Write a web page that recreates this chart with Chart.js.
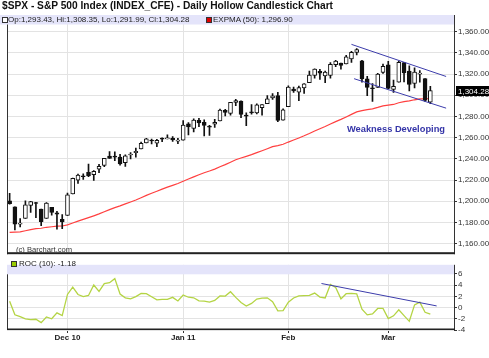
<!DOCTYPE html>
<html>
<head>
<meta charset="utf-8">
<script src="https://cdn.jsdelivr.net/npm/chart.js@4.4.1/dist/chart.umd.min.js"></script>
<style>
  body { margin: 0; background: #fff; font-family: 'Liberation Sans', Arial, sans-serif; }
  #wrap { position: relative; width: 489px; height: 358px; overflow: hidden; }
  canvas { position: absolute; left: 0; }
  .txt { position: absolute; white-space: nowrap; color: #222; }
  .sq { position: absolute; width: 4px; height: 4px; border: 1px solid #333; }
</style>
</head>
<body>
<div id="wrap">
  <canvas id="main" width="489" height="260" style="top:0"></canvas>
  <canvas id="roc" width="489" height="99" style="top:259px"></canvas>

  <div class="txt" style="left:2px;top:0;font-size:10.2px;line-height:12px;font-weight:bold;color:#111">$SPX - S&amp;P 500 Index (INDEX_CFE) - Daily Hollow Candlestick Chart</div>

  <div class="sq" style="left:2px;top:17px;background:#fff"></div>
  <div class="txt" style="left:8px;top:15px;font-size:8px;line-height:10px">Op:1,293.43, Hi:1,308.35, Lo:1,291.99, Cl:1,304.28</div>
  <div class="sq" style="left:206px;top:17px;background:#e00000"></div>
  <div class="txt" style="left:213px;top:15px;font-size:8px;line-height:10px">EXPMA (50): 1,296.90</div>

  <div class="sq" style="left:11px;top:261px;background:#99cc00"></div>
  <div class="txt" style="left:19px;top:259px;font-size:8px;line-height:10px">ROC (10): -1.18</div>

  <div class="txt" style="left:347px;top:123px;font-size:9.3px;line-height:12px;font-weight:bold;color:#3535a8">Weakness Developing</div>
  <div class="txt" style="left:16px;top:245px;font-size:7.6px;line-height:10px;color:#333">(c) Barchart.com</div>
</div>
<script>
// trading days, 15 Nov 2010 - 11 Mar 2011
const dates = [
  'Nov 15','Nov 16','Nov 17','Nov 18','Nov 19','Nov 22','Nov 23','Nov 24','Nov 26','Nov 29','Nov 30',
  'Dec 1','Dec 2','Dec 3','Dec 6','Dec 7','Dec 8','Dec 9','Dec 10','Dec 13','Dec 14','Dec 15','Dec 16','Dec 17',
  'Dec 20','Dec 21','Dec 22','Dec 23','Dec 27','Dec 28','Dec 29','Dec 30','Dec 31',
  'Jan 3','Jan 4','Jan 5','Jan 6','Jan 7','Jan 10','Jan 11','Jan 12','Jan 13','Jan 14','Jan 18','Jan 19','Jan 20',
  'Jan 21','Jan 24','Jan 25','Jan 26','Jan 27','Jan 28','Jan 31',
  'Feb 1','Feb 2','Feb 3','Feb 4','Feb 7','Feb 8','Feb 9','Feb 10','Feb 11','Feb 14','Feb 15','Feb 16','Feb 17',
  'Feb 18','Feb 22','Feb 23','Feb 24','Feb 25','Feb 28',
  'Mar 1','Mar 2','Mar 3','Mar 4','Mar 7','Mar 8','Mar 9','Mar 10','Mar 11',
];

const opens = [
  1200.44, 1194.79, 1178.33, 1183.75, 1196.12, 1198.07, 1192.51, 1183.70, 1194.16, 1189.08, 1182.96,
  1186.60, 1206.81, 1219.93, 1223.87, 1227.25, 1225.02, 1230.14, 1233.85, 1242.52, 1241.84, 1241.58,
  1236.34, 1243.63, 1245.76, 1249.43, 1254.94, 1257.53, 1254.66, 1259.10, 1258.78, 1259.44, 1256.76,
  1257.62, 1272.95, 1268.78, 1276.29, 1274.41, 1270.84, 1272.58, 1275.65, 1285.78, 1282.90, 1293.22,
  1294.52, 1280.85, 1283.63, 1283.29, 1288.17, 1291.97, 1297.51, 1299.63, 1276.50,
  1289.14, 1305.91, 1302.77, 1307.01, 1311.85, 1318.76, 1322.48, 1318.13, 1318.66, 1328.73, 1330.43,
  1329.51, 1334.37, 1340.38, 1332.50, 1315.44, 1307.09, 1307.34, 1321.61,
  1328.64, 1305.47, 1312.37, 1330.73, 1322.72, 1311.05, 1319.92, 1315.72, 1293.43,
];
const highs = [
  1207.43, 1194.79, 1183.56, 1200.29, 1199.97, 1198.94, 1192.51, 1198.62, 1194.16, 1190.34, 1187.40,
  1207.61, 1221.89, 1225.57, 1225.80, 1235.05, 1228.93, 1234.71, 1240.40, 1246.73, 1246.59, 1244.25,
  1243.75, 1245.81, 1250.20, 1255.82, 1259.39, 1258.59, 1258.43, 1259.90, 1262.60, 1261.09, 1259.34,
  1276.17, 1274.12, 1277.63, 1278.17, 1276.83, 1271.52, 1277.25, 1286.87, 1286.70, 1293.24, 1296.06,
  1294.60, 1283.35, 1291.21, 1291.93, 1291.26, 1299.74, 1301.63, 1302.67, 1287.17,
  1308.86, 1307.61, 1308.60, 1311.00, 1322.85, 1324.87, 1324.54, 1322.78, 1330.79, 1332.96, 1330.43,
  1337.61, 1341.50, 1344.07, 1333.00, 1317.91, 1310.91, 1320.61, 1329.38,
  1332.09, 1314.19, 1332.28, 1331.08, 1327.68, 1325.74, 1323.21, 1315.72, 1308.35,
];
const lows = [
  1197.15, 1173.00, 1175.82, 1183.75, 1189.44, 1184.58, 1176.91, 1183.70, 1186.93, 1173.64, 1174.14,
  1186.60, 1206.81, 1216.82, 1220.67, 1223.25, 1219.50, 1226.85, 1232.58, 1240.34, 1238.17, 1234.01,
  1232.85, 1239.87, 1241.51, 1249.43, 1254.94, 1254.05, 1251.48, 1256.22, 1258.78, 1256.32, 1254.19,
  1257.62, 1262.66, 1265.36, 1270.43, 1261.70, 1262.18, 1269.62, 1275.65, 1280.47, 1281.24, 1290.16,
  1278.92, 1271.26, 1282.07, 1282.47, 1281.07, 1291.97, 1295.98, 1275.10, 1276.50,
  1289.14, 1302.62, 1294.83, 1301.67, 1311.85, 1316.03, 1314.89, 1311.74, 1316.08, 1326.90, 1324.61,
  1329.51, 1331.00, 1338.12, 1312.33, 1299.55, 1294.26, 1307.34, 1320.55,
  1306.14, 1302.58, 1312.37, 1312.59, 1303.99, 1306.86, 1312.27, 1294.21, 1291.99,
];
const closes = [
  1197.75, 1178.34, 1178.59, 1196.69, 1199.73, 1197.84, 1180.73, 1198.35, 1189.40, 1187.76, 1180.55,
  1206.07, 1221.53, 1224.71, 1223.12, 1223.75, 1228.28, 1233.00, 1240.40, 1240.46, 1241.59, 1235.23,
  1242.87, 1243.91, 1247.08, 1254.60, 1258.84, 1256.77, 1257.54, 1258.51, 1259.78, 1257.88, 1257.64,
  1271.87, 1270.20, 1276.56, 1273.85, 1271.50, 1269.75, 1274.48, 1285.96, 1283.76, 1293.24, 1295.02,
  1281.92, 1280.26, 1283.35, 1290.84, 1291.18, 1296.63, 1299.54, 1276.34, 1286.12,
  1307.59, 1304.03, 1307.10, 1310.87, 1319.05, 1324.57, 1320.88, 1321.87, 1329.15, 1332.32, 1328.01,
  1336.32, 1340.43, 1343.01, 1315.44, 1307.40, 1306.10, 1319.88, 1327.22,
  1306.33, 1308.44, 1330.97, 1321.15, 1310.13, 1321.82, 1320.02, 1295.11, 1304.28,
];
const ema50 = [
  1170.5, 1170.8, 1171.1, 1172.1, 1173.2, 1174.2, 1174.5, 1175.4, 1175.9, 1176.4, 1176.6,
  1177.7, 1179.4, 1181.2, 1182.9, 1184.5, 1186.2, 1188.0, 1190.1, 1192.1, 1194.0, 1195.6,
  1197.5, 1199.3, 1201.2, 1203.3, 1205.5, 1207.5, 1209.4, 1211.4, 1213.3, 1215.0, 1216.7,
  1218.8, 1220.9, 1223.0, 1225.0, 1226.9, 1228.5, 1230.3, 1232.5, 1234.5, 1236.8, 1239.1,
  1240.8, 1242.3, 1243.9, 1245.8, 1247.6, 1249.5, 1251.5, 1252.4, 1253.7,
  1255.8, 1257.7, 1259.7, 1261.7, 1263.9, 1266.3, 1268.4, 1270.5, 1272.8, 1275.1, 1277.2,
  1279.5, 1281.9, 1284.3, 1285.5, 1286.4, 1287.2, 1288.5, 1290.0,
  1290.6, 1291.3, 1292.9, 1294.0, 1294.6, 1295.7, 1296.6, 1296.6, 1296.9,
];
const roc10 = [
  1.13, -1.28, -1.62, -2.00, -2.13, -2.08, -2.69, -1.67, -1.99, -0.95, -1.44,
  2.35, 3.64, 2.34, 1.95, 2.16, 4.03, 2.89, 4.29, 4.44, 5.17, 2.42,
  1.75, 1.57, 1.96, 2.52, 2.49, 1.93, 1.38, 1.46, 1.47, 1.83, 1.19,
  2.25, 1.85, 1.75, 1.19, 1.17, 0.97, 1.27, 2.08, 2.06, 2.83, 1.82,
  0.92, 0.29, 0.75, 1.52, 1.69, 1.74, 1.06, -0.58, -0.55,
  0.97, 1.72, 2.10, 2.14, 2.19, 2.59, 1.87, 1.72, 4.14, 3.59, 1.56,
  2.48, 2.55, 2.45, -0.27, -1.30, -1.12, -0.15, -0.15,
  -1.95, -1.47, -0.40, -1.44, -2.45, 0.49, 0.97, -0.84, -1.18,
];

// hand-drawn trend lines (bar index, value)
const upperTrendX = [65, 83];
const upperTrendY = [1348, 1317.7];
const lowerTrendX = [65.5, 83];
const lowerTrendY = [1315.6, 1287.8];
const rocTrendX = [59.3, 81.2];
const rocTrendY = [4.3, 0.3];

// month ticks (first trading day of each month)
const tickIdx = [11, 33, 53, 72];
const tickLabels = ['Dec 10', 'Jan 11', 'Feb', 'Mar'];

const priceTicks = {min: 1150, max: 1375.7, step: 20};
const rocTicks = {min: -4, max: 7.64, step: 2};

Chart.defaults.font.family = "'Liberation Sans', Arial, sans-serif";
Chart.defaults.font.size = 8;
Chart.defaults.color = '#333';

const GRID = '#e3e3e3';
const X_MIN = -0.5;
const X_MAX = 84.5;

const fmtPrice = (v) => v.toLocaleString('en-US', {
  minimumFractionDigits: 2, maximumFractionDigits: 2,
});

const pts = (xs, ys) => xs.map((x, i) => ({x, y: ys[i]}));

const panelPlugin = {
  id: 'panel',
  beforeDatasetsDraw(chart, args, opts) {
    const {ctx, chartArea: a} = chart;
    ctx.save();
    ctx.fillStyle = '#e4e4fa';
    ctx.fillRect(opts.bandLeft, a.top, a.right - opts.bandLeft, opts.band);
    ctx.restore();
  },
  afterDraw(chart, args, opts) {
    const {ctx, chartArea: a} = chart;
    ctx.save();
    ctx.strokeStyle = '#333';
    ctx.lineWidth = 1;
    ctx.beginPath();
    ctx.moveTo(a.left + 0.5, a.top + opts.band);
    ctx.lineTo(a.left + 0.5, a.bottom);
    ctx.moveTo(a.right + 0.5, a.top);
    ctx.lineTo(a.right + 0.5, a.bottom);
    ctx.stroke();
    ctx.fillStyle = '#222';
    ctx.fillRect(a.left, a.bottom - opts.bottom, a.right - a.left + 1, opts.bottom);
    if (opts.lastPrice) {
      const y = chart.scales.y.getPixelForValue(opts.lastPrice);
      ctx.fillStyle = '#000';
      ctx.fillRect(a.right + 2, Math.round(y) - 5, 33, 10);
      ctx.fillStyle = '#fff';
      ctx.font = "8px 'Liberation Sans', Arial, sans-serif";
      ctx.textBaseline = 'middle';
      ctx.fillText(fmtPrice(opts.lastPrice), a.right + 4, Math.round(y) + 0.5);
    }
    ctx.restore();
  },
};

const monthAxis = (showLabels) => ({
  type: 'linear',
  min: X_MIN,
  max: X_MAX,
  offset: false,
  afterBuildTicks: (s) => {
    s.ticks = tickIdx.map((v) => ({value: v}));
  },
  afterFit: (s) => {
    s.height = showLabels ? 28 : 1;
  },
  ticks: {
    display: showLabels,
    autoSkip: false,
    maxRotation: 0,
    padding: 0,
    color: '#222',
    font: {size: 8, weight: 'bold'},
    callback: (v) => tickLabels[tickIdx.indexOf(v)],
  },
  grid: {color: GRID, offset: false, drawTicks: showLabels, tickLength: 3, tickColor: '#333'},
  border: {display: false},
});

const valueAxis = (t, cb) => ({
  position: 'right',
  min: t.min,
  max: t.max,
  afterFit: (s) => {
    s.width = 35;
  },
  ticks: {stepSize: t.step, includeBounds: false, padding: 1, color: '#333', callback: cb},
  grid: {color: GRID, tickLength: 3, tickColor: '#333'},
  border: {display: false},
});

new Chart(document.getElementById('main'), {
  type: 'bar',
  data: {
    datasets: [
      {
        type: 'line',
        data: pts(upperTrendX, upperTrendY),
        borderColor: '#3c3cab',
        borderWidth: 1,
        pointRadius: 0,
        order: 0,
      },
      {
        type: 'line',
        data: pts(lowerTrendX, lowerTrendY),
        borderColor: '#3c3cab',
        borderWidth: 1,
        pointRadius: 0,
        order: 0,
      },
      {
        data: dates.map((d, i) => ({x: i, y: [opens[i], closes[i]]})),
        backgroundColor: closes.map((c, i) => (c >= opens[i] ? '#fff' : '#111')),
        borderColor: '#111',
        borderWidth: 1,
        borderSkipped: false,
        barThickness: 4,
        minBarLength: 1,
        grouped: false,
        order: 1,
      },
      {
        data: dates.map((d, i) => ({x: i, y: [lows[i], highs[i]]})),
        backgroundColor: '#111',
        barThickness: 1,
        grouped: false,
        order: 2,
      },
      {
        type: 'line',
        data: pts(dates.map((d, i) => i), ema50),
        borderColor: '#ff4040',
        borderWidth: 1.2,
        pointRadius: 0,
        order: 3,
      },
    ],
  },
  options: {
    responsive: false,
    animation: false,
    events: [],
    layout: {padding: {left: 7, top: 15, right: 0, bottom: 0}},
    scales: {
      x: monthAxis(false),
      y: valueAxis(priceTicks, fmtPrice),
    },
    plugins: {
      legend: {display: false},
      tooltip: {enabled: false},
      panel: {band: 9.5, bandLeft: 0, bottom: 2, lastPrice: closes[closes.length - 1]},
    },
  },
  plugins: [panelPlugin],
});

new Chart(document.getElementById('roc'), {
  type: 'line',
  data: {
    datasets: [
      {
        data: pts(rocTrendX, rocTrendY),
        borderColor: '#3c3cab',
        borderWidth: 1,
        pointRadius: 0,
        order: 0,
      },
      {
        data: pts(dates.map((d, i) => i), roc10),
        borderColor: '#b4d444',
        borderWidth: 1.3,
        pointRadius: 0,
        order: 1,
      },
    ],
  },
  options: {
    responsive: false,
    animation: false,
    events: [],
    layout: {padding: {left: 7, top: 0, right: 0, bottom: 0}},
    scales: {
      x: monthAxis(true),
      y: valueAxis(rocTicks, (v) => String(v)),
    },
    plugins: {
      legend: {display: false},
      tooltip: {enabled: false},
      panel: {band: 9.5, bandLeft: 7, bottom: 1.5},
    },
  },
  plugins: [panelPlugin],
});
</script>
</body>
</html>
